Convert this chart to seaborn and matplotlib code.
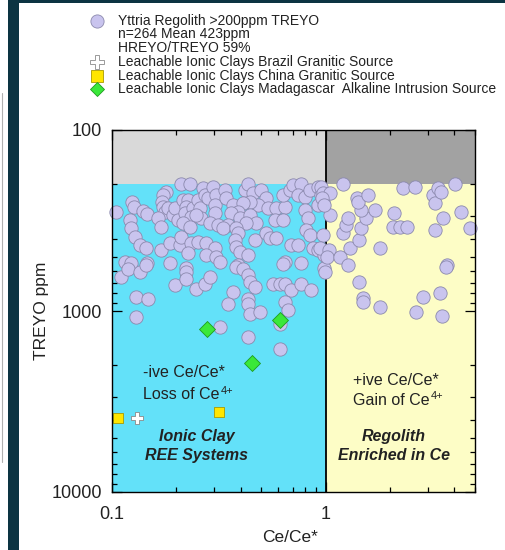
import matplotlib
matplotlib.use("Agg")
import matplotlib.pyplot as plt
import pandas as pd
import seaborn as sns
from matplotlib.lines import Line2D
from matplotlib.patches import Rectangle
from matplotlib.ticker import LogLocator, NullFormatter, FixedLocator, FixedFormatter

# Yttria regolith samples: Ce anomaly (Ce/Ce*) and total rare earths + Y oxide (ppm)
ce_ratio = [
    0.104, 0.124, 0.127, 0.140, 0.146, 0.121, 0.123, 0.128, 0.135, 0.144,
    0.115, 0.123, 0.146, 0.170, 0.187, 0.208, 0.210, 0.234, 0.227, 0.253,
    0.276, 0.304, 0.276, 0.307, 0.187, 0.222, 0.179, 0.173, 0.172, 0.173,
    0.177, 0.183, 0.164, 0.170, 0.193, 0.197, 0.204, 0.215, 0.227, 0.222,
    0.220, 0.240, 0.234, 0.215, 0.232, 0.253, 0.258, 0.261, 0.247, 0.210,
    0.232, 0.267, 0.273, 0.282, 0.297, 0.307, 0.304, 0.304, 0.288, 0.314,
    0.338, 0.342, 0.369, 0.420, 0.433, 0.457, 0.499, 0.527, 0.483, 0.442,
    0.410, 0.389, 0.361, 0.397, 0.442, 0.538, 0.586, 0.646, 0.632, 0.682,
    0.705, 0.768, 0.744, 0.802, 0.847, 0.923, 0.953, 0.974, 0.923, 0.802,
    0.828, 0.580, 0.632, 0.472, 0.424, 0.349, 0.331, 0.381, 0.389, 0.377,
    0.381, 0.397, 0.433, 0.467, 0.527, 0.550, 0.586, 0.811, 0.847, 0.974,
    0.690, 0.744, 0.875, 0.923, 0.985, 0.646, 0.768, 0.389, 0.980,
    0.110, 0.119, 0.135, 0.144, 0.130, 0.147, 0.130, 0.197, 0.222, 0.222,
    0.247, 0.273, 0.288, 0.369, 0.349, 0.381, 0.410, 0.433, 0.442, 0.467,
    0.433, 0.433, 0.442, 0.494, 0.320, 0.433, 0.567, 0.612, 0.646, 0.690,
    0.768, 0.856, 0.646, 0.667, 0.612, 0.612, 0.990, 0.632, 0.320,
    0.953, 0.974, 1.05, 1.20, 1.05, 0.943, 1.04, 1.01, 1.17, 1.27,
    1.30, 1.44, 1.46, 1.20, 1.24, 1.27, 1.54, 1.46, 1.70, 1.40,
    1.41, 1.57, 1.79, 1.44, 1.49, 1.49, 1.79, 2.09, 2.06, 2.24,
    2.39, 2.31, 2.62, 3.19, 3.26, 3.37, 3.48, 4.03, 3.55, 3.26,
    4.31, 4.74, 3.71, 3.67, 2.86, 3.44, 2.65, 3.52, 0.964, 0.985,
]
treyo = [
    284, 250, 266, 280, 291, 314, 347, 390, 432, 449,
    536, 543, 543, 460, 421, 432, 390, 421, 478, 416,
    421, 449, 490, 503, 543, 578, 220, 229, 250, 266,
    284, 270, 306, 343, 295, 270, 314, 244, 244, 266,
    288, 270, 302, 326, 343, 244, 270, 306, 295, 200,
    200, 209, 229, 237, 207, 229, 260, 288, 326, 334,
    215, 237, 260, 215, 200, 223, 215, 237, 260, 250,
    253, 284, 288, 306, 295, 270, 270, 266, 229, 215,
    202, 200, 229, 234, 215, 207, 229, 250, 260, 277,
    306, 314, 314, 326, 326, 334, 347, 347, 370, 405,
    443, 472, 490, 405, 370, 395, 395, 357, 380, 380,
    432, 432, 449, 460, 490, 536, 543, 557, 578,
    648, 586, 609, 557, 837, 859, 1080, 718, 609, 665,
    756, 709, 648, 785, 915, 571, 586, 632, 691, 737,
    859, 915, 1039, 1013, 1227, 1393, 709, 709, 709, 766,
    709, 766, 892, 988, 1181, 1622, 609, 550, 536,
    207, 223, 223, 200, 295, 449, 460, 503, 503, 557,
    449, 405, 347, 370, 334, 306, 306, 277, 277, 237,
    250, 229, 449, 691, 848, 892, 950, 288, 343, 343,
    343, 209, 207, 229, 253, 209, 220, 200, 306, 357,
    284, 347, 557, 571, 837, 795, 1013, 1066, 237, 260,
]

# Leachable ionic clay reference deposits
brazil_ce = [0.131]
brazil_treyo = [3900]
china_ce = [0.107, 0.317]
china_treyo = [3900, 3620]
madagascar_ce = [0.279, 0.612, 0.452]
madagascar_treyo = [1259, 1122, 1950]

legend_labels = [
    "Yttria Regolith >200ppm TREYO",
    "n=264 Mean 423ppm",
    "HREYO/TREYO 59%",
    "Leachable Ionic Clays Brazil Granitic Source",
    "Leachable Ionic Clays China Granitic Source",
    "Leachable Ionic Clays Madagascar  Alkaline Intrusion Source",
]

sns.set_theme(style="ticks")
plt.rcParams["font.family"] = ["Liberation Sans", "DejaVu Sans"]

TXT = "#222222"
NAVY = "#0c3442"
LAV = "#c9c4ee"
LAV_EDGE = "#8b89ad"

W, H = 505, 550
fig = plt.figure(figsize=(W / 100, H / 100), dpi=100)
fig.patch.set_facecolor("white")

# slide frame
fig.add_artist(Rectangle((8 / W, 0), 11 / W, 1, transform=fig.transFigure,
                         color=NAVY, lw=0, zorder=0))
fig.add_artist(Rectangle((8 / W, 1 - 3 / H), 1, 3 / H, transform=fig.transFigure,
                         color=NAVY, lw=0, zorder=0))
fig.add_artist(Line2D([2 / W, 2 / W], [1 - 93 / H, 1 - 462 / H],
                      transform=fig.transFigure, color="#b0b0b0", lw=0.8))

ax = fig.add_axes([112 / W, 1 - 492 / H, 363 / W, 362 / H])
ax.set_xscale("log")
ax.set_yscale("log")
ax.set_xlim(0.1, 5)
ax.set_ylim(10000, 100)

# field shading
ax.fill_between([0.1, 1], 100, 200, color="#d9d9d9", lw=0, zorder=0)
ax.fill_between([1, 5], 100, 200, color="#a2a2a2", lw=0, zorder=0)
ax.fill_between([0.1, 1], 200, 10000, color="#63e1f9", lw=0, zorder=0)
ax.fill_between([1, 5], 200, 10000, color="#fdfdc6", lw=0, zorder=0)
ax.axvline(1, color="black", lw=1.3, zorder=1)

regolith = pd.DataFrame({"Ce/Ce*": ce_ratio, "TREYO": treyo})
sns.scatterplot(data=regolith, x="Ce/Ce*", y="TREYO", ax=ax, s=92, color=LAV,
                edgecolor=LAV_EDGE, linewidth=0.6, zorder=3, clip_on=False,
                legend=False)
sns.scatterplot(x=madagascar_ce, y=madagascar_treyo, ax=ax, marker="D", s=66,
                color="#3ae83a", edgecolor="#1f9a1f", linewidth=0.6, zorder=4,
                legend=False)
sns.scatterplot(x=china_ce, y=china_treyo, ax=ax, marker="s", s=62,
                color="#ffe600", edgecolor="#a89a00", linewidth=0.6, zorder=4,
                clip_on=False, legend=False)
sns.scatterplot(x=brazil_ce, y=brazil_treyo, ax=ax, marker="P", s=85,
                color="white", edgecolor="#8a8a8a", linewidth=0.6, zorder=4,
                legend=False)

# axes styling
for sp in ax.spines.values():
    sp.set_color("black")
    sp.set_linewidth(1.0)
    sp.set_zorder(5)
ax.xaxis.set_major_locator(FixedLocator([0.1, 1]))
ax.xaxis.set_major_formatter(FixedFormatter(["0.1", "1"]))
ax.yaxis.set_major_locator(FixedLocator([100, 1000, 10000]))
ax.yaxis.set_major_formatter(FixedFormatter(["100", "1000", "10000"]))
ax.xaxis.set_minor_locator(LogLocator(base=10, subs=range(2, 10)))
ax.yaxis.set_minor_locator(LogLocator(base=10, subs=range(2, 10)))
ax.xaxis.set_minor_formatter(NullFormatter())
ax.yaxis.set_minor_formatter(NullFormatter())
ax.tick_params(which="both", direction="in", top=True, right=True,
               color="black", width=0.9, labelcolor=TXT, labelsize=13)
ax.tick_params(which="major", length=7)
ax.tick_params(which="minor", length=3.5)
ax.tick_params(axis="x", pad=10)
ax.tick_params(axis="y", pad=7)

ax.set_xlabel("Ce/Ce*", fontsize=12.5, color=TXT)
ax.set_ylabel("TREYO ppm", fontsize=12.5, color=TXT)
ax.xaxis.set_label_coords(0.49, -0.105)
ax.yaxis.set_label_coords(-0.174, 0.5)


def ce_line(x, y, prefix):
    """Write '<prefix> of Ce' with a small raised 4+ charge."""
    t = ax.text(x, y, f"{prefix} of Ce", transform=ax.transAxes, fontsize=11.5,
                color=TXT, ha="left", va="center", zorder=6)
    fig.canvas.draw()
    bb = t.get_window_extent().transformed(ax.transAxes.inverted())
    ax.text(bb.x1 + 0.003, y + 0.012, "4+", transform=ax.transAxes, fontsize=8,
            color=TXT, ha="left", va="center", zorder=6)


# field annotations
ax.text(0.0854, 0.329, "-ive Ce/Ce*", transform=ax.transAxes, fontsize=11.5,
        color=TXT, ha="left", va="center", zorder=6)
ce_line(0.0854, 0.268, "Loss")
ax.text(0.234, 0.152, "Ionic Clay", transform=ax.transAxes, fontsize=11.5,
        color=TXT, ha="center", va="center", fontweight="bold", style="italic", zorder=6)
ax.text(0.234, 0.102, "REE Systems", transform=ax.transAxes, fontsize=11.5,
        color=TXT, ha="center", va="center", fontweight="bold", style="italic", zorder=6)
ax.text(0.664, 0.309, "+ive Ce/Ce*", transform=ax.transAxes, fontsize=11.5,
        color=TXT, ha="left", va="center", zorder=6)
ce_line(0.664, 0.254, "Gain")
ax.text(0.777, 0.152, "Regolith", transform=ax.transAxes, fontsize=11.5,
        color=TXT, ha="center", va="center", fontweight="bold", style="italic", zorder=6)
ax.text(0.777, 0.102, "Enriched in Ce", transform=ax.transAxes, fontsize=11.5,
        color=TXT, ha="center", va="center", fontweight="bold", style="italic", zorder=6)

# key above the plot
key_y = [1 - v / H for v in (21, 34, 48, 62, 76, 89)]
for label, y in zip(legend_labels, key_y):
    fig.text(118 / W, y, label, fontsize=10.0, color=TXT, ha="left", va="center")
mx = 97 / W
fig.add_artist(Line2D([mx], [key_y[0]], transform=fig.transFigure, marker="o",
                      markersize=9.5, markerfacecolor=LAV, markeredgecolor=LAV_EDGE,
                      markeredgewidth=0.6, linestyle="none"))
fig.add_artist(Line2D([mx], [key_y[3]], transform=fig.transFigure, marker="P",
                      markersize=9.5, markerfacecolor="white", markeredgecolor="#8a8a8a",
                      markeredgewidth=0.6, linestyle="none"))
fig.add_artist(Line2D([mx], [key_y[4]], transform=fig.transFigure, marker="s",
                      markersize=8, markerfacecolor="#ffe600", markeredgecolor="#a89a00",
                      markeredgewidth=0.6, linestyle="none"))
fig.add_artist(Line2D([mx], [key_y[5]], transform=fig.transFigure, marker="D",
                      markersize=7.5, markerfacecolor="#3ae83a", markeredgecolor="#1f9a1f",
                      markeredgewidth=0.6, linestyle="none"))

fig.savefig("out.png", dpi=100, facecolor=fig.get_facecolor())
